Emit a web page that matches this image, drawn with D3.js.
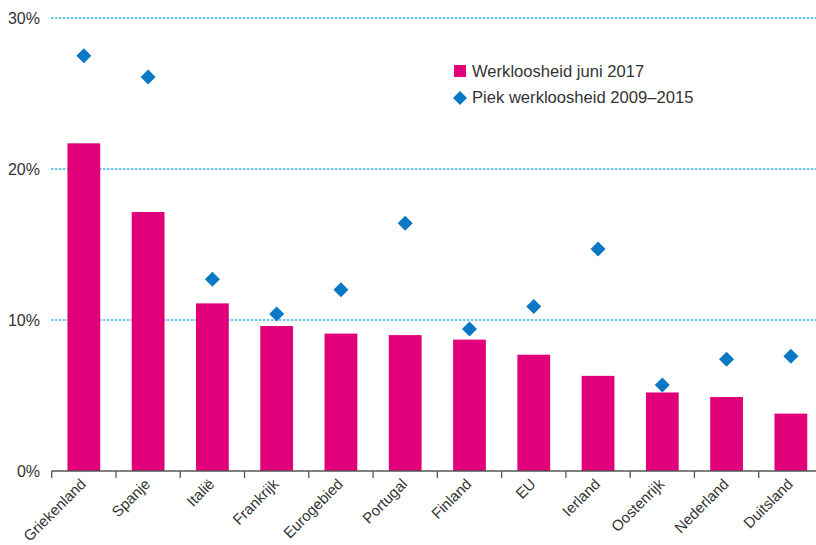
<!DOCTYPE html>
<html><head><meta charset="utf-8">
<script src="https://cdn.jsdelivr.net/npm/d3@7"></script>
<style>body{margin:0;background:#fff;} svg{display:block;font-family:"Liberation Sans",Arial,sans-serif;}</style>
</head><body>
<svg id="c" width="816" height="545"></svg>
<script>
const categories = ["Griekenland","Spanje","Italië","Frankrijk","Eurogebied","Portugal","Finland","EU","Ierland","Oostenrijk","Nederland","Duitsland"];
const juni2017 = [21.7,17.15,11.1,9.6,9.1,9.0,8.7,7.7,6.3,5.2,4.9,3.8];
const piek = [27.5,26.1,12.7,10.4,12.0,16.4,9.4,10.9,14.7,5.7,7.4,7.6];
const yTicks = [0,10,20,30];
const seriesNames = ["Werkloosheid juni 2017","Piek werkloosheid 2009–2015"];

const svg = d3.select("#c");
const x = d3.scaleBand().domain(categories).range([51.7, 823]).padding(0);
const y = d3.scaleLinear().domain([0,30]).range([471,18]);
const barW = x.bandwidth()*0.51;

// gridlines
svg.append("g").selectAll("line").data(yTicks.filter(d=>d>0)).join("line")
  .attr("x1",51).attr("x2",816).attr("y1",d=>y(d)).attr("y2",d=>y(d))
  .attr("stroke","#3bb4e6").attr("stroke-width",1.3).attr("stroke-dasharray","2.5,1.5");

// y labels
svg.append("g").selectAll("text").data(yTicks).join("text")
  .attr("x",40).attr("y",d=>y(d)+6).attr("text-anchor","end")
  .attr("font-size",16).attr("fill","#333").text(d=>d+"%");

// bars
svg.append("g").selectAll("rect").data(categories).join("rect")
  .attr("x",(d)=>x(d)+x.bandwidth()/2-barW/2).attr("width",barW)
  .attr("y",(d,i)=>y(juni2017[i])).attr("height",(d,i)=>y(0)-y(juni2017[i]))
  .attr("fill","#e2007a");

// diamonds
const ds = 7.5;
svg.append("g").selectAll("path").data(categories).join("path")
  .attr("transform",(d,i)=>`translate(${x(d)+x.bandwidth()/2},${y(piek[i])})`)
  .attr("d",`M0,${-ds}L${ds},0L0,${ds}L${-ds},0Z`).attr("fill","#0a78c4");

// x axis
const xa = svg.append("g");
xa.append("line").attr("x1",51.7).attr("x2",816).attr("y1",471).attr("y2",471).attr("stroke","#555").attr("stroke-width",1.3);
xa.selectAll("line.t").data(categories).join("line").attr("class","t")
  .attr("x1",d=>x(d)).attr("x2",d=>x(d)).attr("y1",471).attr("y2",478).attr("stroke","#555").attr("stroke-width",1.3);
xa.selectAll("text").data(categories).join("text")
  .attr("transform",d=>`translate(${x(d)+x.bandwidth()/2+3},${485}) rotate(-45)`)
  .attr("text-anchor","end").attr("font-size",15).attr("fill","#333").text(d=>d);

// legend
const lg = svg.append("g");
lg.append("rect").attr("x",454).attr("y",65).attr("width",12).attr("height",12).attr("fill","#e2007a");
lg.append("path").attr("transform","translate(460,98)").attr("d",`M0,-7L7,0L0,7L-7,0Z`).attr("fill","#0a78c4");
lg.selectAll("text").data(seriesNames).join("text")
  .attr("x",472).attr("y",(d,i)=>77+i*26).attr("font-size",16.6).attr("fill","#333").text(d=>d);
</script>
</body></html>
